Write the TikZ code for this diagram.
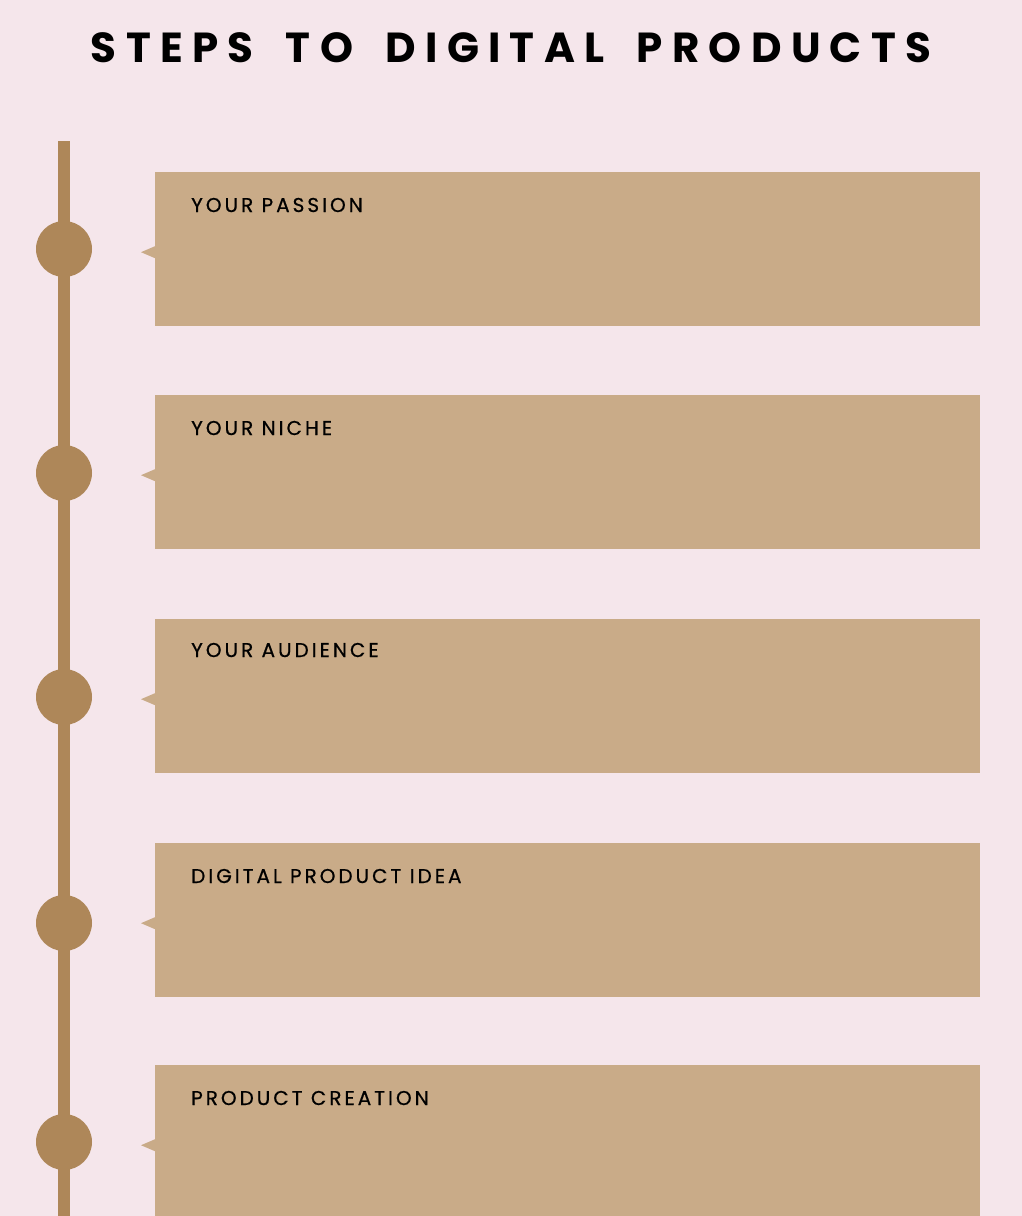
\documentclass[tikz,border=0pt]{standalone}
\usepackage{fontspec}
\setmainfont{Poppins}
\newfontfamily\titlefont[LetterSpace=22, WordSpace=1.8]{Poppins}
\newfontfamily\stepfont[LetterSpace=15, FakeBold=0.6]{Poppins}
\usepackage{tikz, xcolor}
\usetikzlibrary{arrows.meta}

\definecolor{bgpink}{HTML}{F5E6EB}
\definecolor{boxtan}{HTML}{C9AB88}
\definecolor{dotbrown}{HTML}{AE8759}

\begin{document}
\begin{tikzpicture}[x=1pt, y=1pt,
    stepbox/.style={fill=boxtan, minimum width=825pt, minimum height=154pt, anchor=north west, inner sep=0pt},
    dot/.style={circle, fill=dotbrown, minimum size=56pt, inner sep=0pt},
    steplabel/.style={anchor=base west, inner sep=0pt, font=\stepfont\fontsize{20}{24}\selectfont}]

    \fill[bgpink] (0,0) rectangle (1022,-1216);
    \useasboundingbox (0,0) rectangle (1022,-1216);

    \node[anchor=base, inner sep=0pt, font=\titlefont\fontsize{42}{46}\selectfont\bfseries] (title) at (511,-62) {STEPS TO DIGITAL PRODUCTS};

    % timeline
    \coordinate (top) at (64,-141);
    \coordinate (bottom) at (64,-1230);
    \draw[dotbrown, line width=12pt] (top) -- (bottom);

    \node[stepbox] (S1) at (155,-172) {};
    \node[stepbox] (S2) at (155,-395) {};
    \node[stepbox] (S3) at (155,-619) {};
    \node[stepbox] (S4) at (155,-843) {};
    \node[stepbox] (S5) at (155,-1065) {};

    \node[dot] (D1) at (64,-249) {};
    \node[dot] (D2) at (64,-473) {};
    \node[dot] (D3) at (64,-697) {};
    \node[dot] (D4) at (64,-923) {};
    \node[dot] (D5) at (64,-1142) {};

    % pointers
    \foreach \s in {S1,S2,S3,S4,S5}
        \fill[boxtan] ([yshift=3pt]\s.west) -- ++(-14,-6) -- ++(14,-6) -- cycle;

    \node[steplabel] (L1) at ([xshift=36pt, yshift=-40pt]S1.north west) {YOUR PASSION};
    \node[steplabel] (L2) at ([xshift=36pt, yshift=-40pt]S2.north west) {YOUR NICHE};
    \node[steplabel] (L3) at ([xshift=36pt, yshift=-38pt]S3.north west) {YOUR AUDIENCE};
    \node[steplabel] (L4) at ([xshift=36pt, yshift=-40pt]S4.north west) {DIGITAL PRODUCT IDEA};
    \node[steplabel] (L5) at ([xshift=36pt, yshift=-40pt]S5.north west) {PRODUCT CREATION};

\end{tikzpicture}
\end{document}
